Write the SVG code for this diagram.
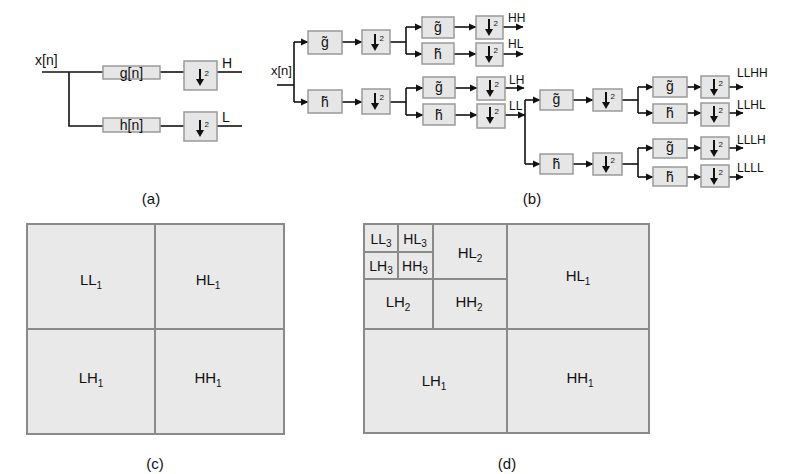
<svg xmlns="http://www.w3.org/2000/svg" width="792" height="474" viewBox="0 0 792 474">
<style>
text{font-family:"Liberation Sans",Arial,sans-serif;fill:#111}
.box{fill:#e6e6e6;stroke:#9a9a9a;stroke-width:1.5}
.ln{fill:none;stroke:#111;stroke-width:1.6}
.ar{fill:none;stroke:#111;stroke-width:1.6;marker-end:url(#ah)}
.cell{fill:#e9e9e9;stroke:#8a8a8a;stroke-width:2}
.sep{stroke:#8a8a8a;stroke-width:2}
.lbl{font-size:15px;text-anchor:middle}
.sm{font-size:14px;text-anchor:middle}
.out{font-size:12px}
.sub{font-size:10px}
.dn{stroke:#111;stroke-width:2}
</style>
<defs>
<marker id="ah" markerUnits="userSpaceOnUse" markerWidth="8" markerHeight="8" refX="7" refY="4" orient="auto">
<path d="M0,0.5 L7.5,4 L0,7.5 z" fill="#111"/>
</marker>
<g id="down">
<line class="dn" x1="0" y1="-8" x2="0" y2="3"/>
<path d="M-4,2 L4,2 L0,9 z" fill="#111"/>
<text x="4.5" y="-1" style="font-size:8px">2</text>
</g>
</defs>

<!-- Panel (a) -->
<g id="a-connectors">
<line class="ln" x1="42" y1="72" x2="103" y2="72"/>
<polyline class="ln" points="69,72 69,126 103,126"/>
<line class="ln" x1="160" y1="72" x2="184" y2="72"/>
<line class="ln" x1="160" y1="126" x2="184" y2="126"/>
<line class="ln" x1="217" y1="72" x2="242" y2="72"/>
<line class="ln" x1="217" y1="126" x2="242" y2="126"/>
</g>
<text x="35" y="65" style="font-size:14px">x[n]</text>
<g id="a-g"><rect class="box" x="103" y="66" width="57" height="13"/><text x="131.5" y="77.5" class="lbl" style="font-size:14px">g[n]</text></g>
<g id="a-h"><rect class="box" x="103" y="118" width="57" height="14"/><text x="131.5" y="130" class="lbl" style="font-size:14px">h[n]</text></g>
<g id="a-d1"><rect class="box" x="184" y="61" width="33" height="29"/><use href="#down" x="200" y="77"/></g>
<g id="a-d2"><rect class="box" x="184" y="112" width="33" height="29"/><use href="#down" x="200" y="128"/></g>
<text x="222" y="68" style="font-size:14px">H</text>
<text x="222" y="122" style="font-size:14px">L</text>
<text x="151" y="204" class="lbl">(a)</text>

<!-- Panel (b) connectors -->
<g id="b-connectors">
<line class="ln" x1="277" y1="85" x2="294" y2="85"/>
<line class="ln" x1="294" y1="42" x2="294" y2="102"/>
<line class="ar" x1="294" y1="42" x2="308" y2="42"/>
<line class="ar" x1="294" y1="102" x2="308" y2="102"/>
<line class="ar" x1="342" y1="42" x2="362" y2="42"/>
<line class="ar" x1="342" y1="102" x2="362" y2="102"/>
<line class="ln" x1="390" y1="42" x2="406" y2="42"/>
<line class="ln" x1="406" y1="27" x2="406" y2="54"/>
<line class="ar" x1="406" y1="27" x2="422" y2="27"/>
<line class="ar" x1="406" y1="54" x2="422" y2="54"/>
<line class="ar" x1="454" y1="27" x2="476" y2="27"/>
<line class="ar" x1="454" y1="54" x2="476" y2="54"/>
<line class="ar" x1="503" y1="27" x2="523" y2="27"/>
<line class="ar" x1="503" y1="54" x2="523" y2="54"/>
<line class="ln" x1="390" y1="102" x2="406" y2="102"/>
<line class="ln" x1="406" y1="88" x2="406" y2="115"/>
<line class="ar" x1="406" y1="88" x2="423" y2="88"/>
<line class="ar" x1="406" y1="115" x2="423" y2="115"/>
<line class="ar" x1="455" y1="88" x2="477" y2="88"/>
<line class="ar" x1="455" y1="115" x2="477" y2="115"/>
<line class="ar" x1="505" y1="88" x2="524" y2="88"/>
<line class="ar" x1="505" y1="115" x2="525" y2="115"/>
<line class="ln" x1="525" y1="100" x2="525" y2="164"/>
<line class="ar" x1="525" y1="100" x2="540" y2="100"/>
<line class="ar" x1="525" y1="164" x2="540" y2="164"/>
<line class="ar" x1="573" y1="100" x2="593" y2="100"/>
<line class="ar" x1="573" y1="164" x2="593" y2="164"/>
<line class="ln" x1="622" y1="100" x2="638" y2="100"/>
<line class="ln" x1="638" y1="87" x2="638" y2="113"/>
<line class="ln" x1="622" y1="164" x2="638" y2="164"/>
<line class="ln" x1="638" y1="148" x2="638" y2="177"/>
<line class="ar" x1="638" y1="87" x2="653" y2="87"/>
<line class="ar" x1="638" y1="113" x2="653" y2="113"/>
<line class="ar" x1="638" y1="148" x2="653" y2="148"/>
<line class="ar" x1="638" y1="177" x2="653" y2="177"/>
<line class="ar" x1="687" y1="87" x2="701" y2="87"/>
<line class="ar" x1="687" y1="113" x2="701" y2="113"/>
<line class="ar" x1="687" y1="148" x2="701" y2="148"/>
<line class="ar" x1="687" y1="177" x2="701" y2="177"/>
<line class="ar" x1="729" y1="87" x2="743" y2="87"/>
<line class="ar" x1="729" y1="113" x2="743" y2="113"/>
<line class="ar" x1="729" y1="148" x2="743" y2="148"/>
<line class="ar" x1="729" y1="177" x2="743" y2="177"/>
</g>
<text x="271" y="75" style="font-size:13px">x[n]</text>

<!-- stage 1 -->
<g id="b-g1"><rect class="box" x="308" y="31" width="34" height="23"/><text x="325" y="47" class="sm">g̃</text></g>
<g id="b-h1"><rect class="box" x="308" y="90" width="34" height="23"/><text x="325" y="107" class="sm">h̃</text></g>
<g id="b-d1"><rect class="box" x="362" y="30" width="28" height="24"/><use href="#down" x="375" y="42"/></g>
<g id="b-d2"><rect class="box" x="362" y="89" width="28" height="25"/><use href="#down" x="375" y="101"/></g>

<!-- stage 2 -->
<g id="b-g2a"><rect class="box" x="422" y="17" width="32" height="21"/><text x="438" y="32" class="sm">g̃</text></g>
<g id="b-h2a"><rect class="box" x="422" y="43" width="32" height="21"/><text x="438" y="59" class="sm">h̃</text></g>
<g id="b-d2a"><rect class="box" x="476" y="16" width="27" height="23"/><use href="#down" x="489" y="27"/></g>
<g id="b-d2b"><rect class="box" x="476" y="43" width="27" height="23"/><use href="#down" x="489" y="54"/></g>
<g id="b-g2b"><rect class="box" x="423" y="77" width="32" height="21"/><text x="439" y="92" class="sm">g̃</text></g>
<g id="b-h2b"><rect class="box" x="423" y="104" width="32" height="21"/><text x="439" y="120" class="sm">h̃</text></g>
<g id="b-d2c"><rect class="box" x="477" y="77" width="28" height="23"/><use href="#down" x="490" y="88"/></g>
<g id="b-d2d"><rect class="box" x="477" y="104" width="28" height="24"/><use href="#down" x="490" y="115"/></g>
<text x="508" y="22" class="out">HH</text>
<text x="508" y="48" class="out">HL</text>
<text x="509" y="84" class="out">LH</text>
<text x="509" y="110" class="out">LL</text>

<!-- stage 3 -->
<g id="b-g3"><rect class="box" x="540" y="90" width="33" height="20"/><text x="556.5" y="104" class="sm">g̃</text></g>
<g id="b-h3"><rect class="box" x="540" y="154" width="33" height="20"/><text x="556.5" y="169" class="sm">h̃</text></g>
<g id="b-d3a"><rect class="box" x="593" y="89" width="29" height="22"/><use href="#down" x="606" y="100"/></g>
<g id="b-d3b"><rect class="box" x="593" y="153" width="29" height="22"/><use href="#down" x="606" y="164"/></g>

<!-- stage 4 -->
<g id="b-g4a"><rect class="box" x="653" y="77" width="34" height="20"/><text x="670" y="91" class="sm">g̃</text></g>
<g id="b-h4a"><rect class="box" x="653" y="104" width="34" height="19"/><text x="670" y="118" class="sm">h̃</text></g>
<g id="b-g4b"><rect class="box" x="653" y="139" width="34" height="19"/><text x="670" y="152" class="sm">g̃</text></g>
<g id="b-h4b"><rect class="box" x="653" y="167" width="34" height="19"/><text x="670" y="182" class="sm">h̃</text></g>
<g id="b-d4a"><rect class="box" x="701" y="76" width="28" height="22"/><use href="#down" x="714" y="87"/></g>
<g id="b-d4b"><rect class="box" x="701" y="103" width="28" height="23"/><use href="#down" x="714" y="114"/></g>
<g id="b-d4c"><rect class="box" x="701" y="137" width="28" height="22"/><use href="#down" x="714" y="148"/></g>
<g id="b-d4d"><rect class="box" x="701" y="165" width="28" height="22"/><use href="#down" x="714" y="176"/></g>
<text x="737" y="77" class="out">LLHH</text>
<text x="737" y="109" class="out">LLHL</text>
<text x="737" y="144" class="out">LLLH</text>
<text x="737" y="172" class="out">LLLL</text>
<text x="532" y="204" class="lbl">(b)</text>

<!-- Panel (c) -->
<g id="c-panel">
<rect class="cell" x="27" y="224" width="257" height="210"/>
<line class="sep" x1="155" y1="224" x2="155" y2="434"/>
<line class="sep" x1="27" y1="329" x2="284" y2="329"/>
<text x="91" y="285" class="lbl">LL<tspan class="sub" dy="4">1</tspan></text>
<text x="208" y="285" class="lbl">HL<tspan class="sub" dy="4">1</tspan></text>
<text x="91" y="383" class="lbl">LH<tspan class="sub" dy="4">1</tspan></text>
<text x="208" y="383" class="lbl">HH<tspan class="sub" dy="4">1</tspan></text>
</g>
<text x="155" y="469" class="lbl">(c)</text>

<!-- Panel (d) -->
<g id="d-panel">
<rect class="cell" x="364" y="224" width="285" height="209"/>
<line class="sep" x1="507" y1="224" x2="507" y2="433"/>
<line class="sep" x1="364" y1="329" x2="649" y2="329"/>
<line class="sep" x1="433" y1="224" x2="433" y2="329"/>
<line class="sep" x1="364" y1="279" x2="507" y2="279"/>
<line class="sep" x1="398" y1="224" x2="398" y2="279"/>
<line class="sep" x1="364" y1="252" x2="433" y2="252"/>
<text x="381" y="244" class="sm">LL<tspan class="sub" dy="3">3</tspan></text>
<text x="415" y="244" class="sm">HL<tspan class="sub" dy="3">3</tspan></text>
<text x="381" y="271" class="sm">LH<tspan class="sub" dy="3">3</tspan></text>
<text x="415" y="271" class="sm">HH<tspan class="sub" dy="3">3</tspan></text>
<text x="470" y="258" class="lbl">HL<tspan class="sub" dy="4">2</tspan></text>
<text x="398" y="307" class="lbl">LH<tspan class="sub" dy="4">2</tspan></text>
<text x="469" y="307" class="lbl">HH<tspan class="sub" dy="4">2</tspan></text>
<text x="578" y="281" class="lbl">HL<tspan class="sub" dy="4">1</tspan></text>
<text x="434" y="386" class="lbl">LH<tspan class="sub" dy="4">1</tspan></text>
<text x="580" y="383" class="lbl">HH<tspan class="sub" dy="4">1</tspan></text>
</g>
<text x="507" y="469" class="lbl">(d)</text>
</svg>
